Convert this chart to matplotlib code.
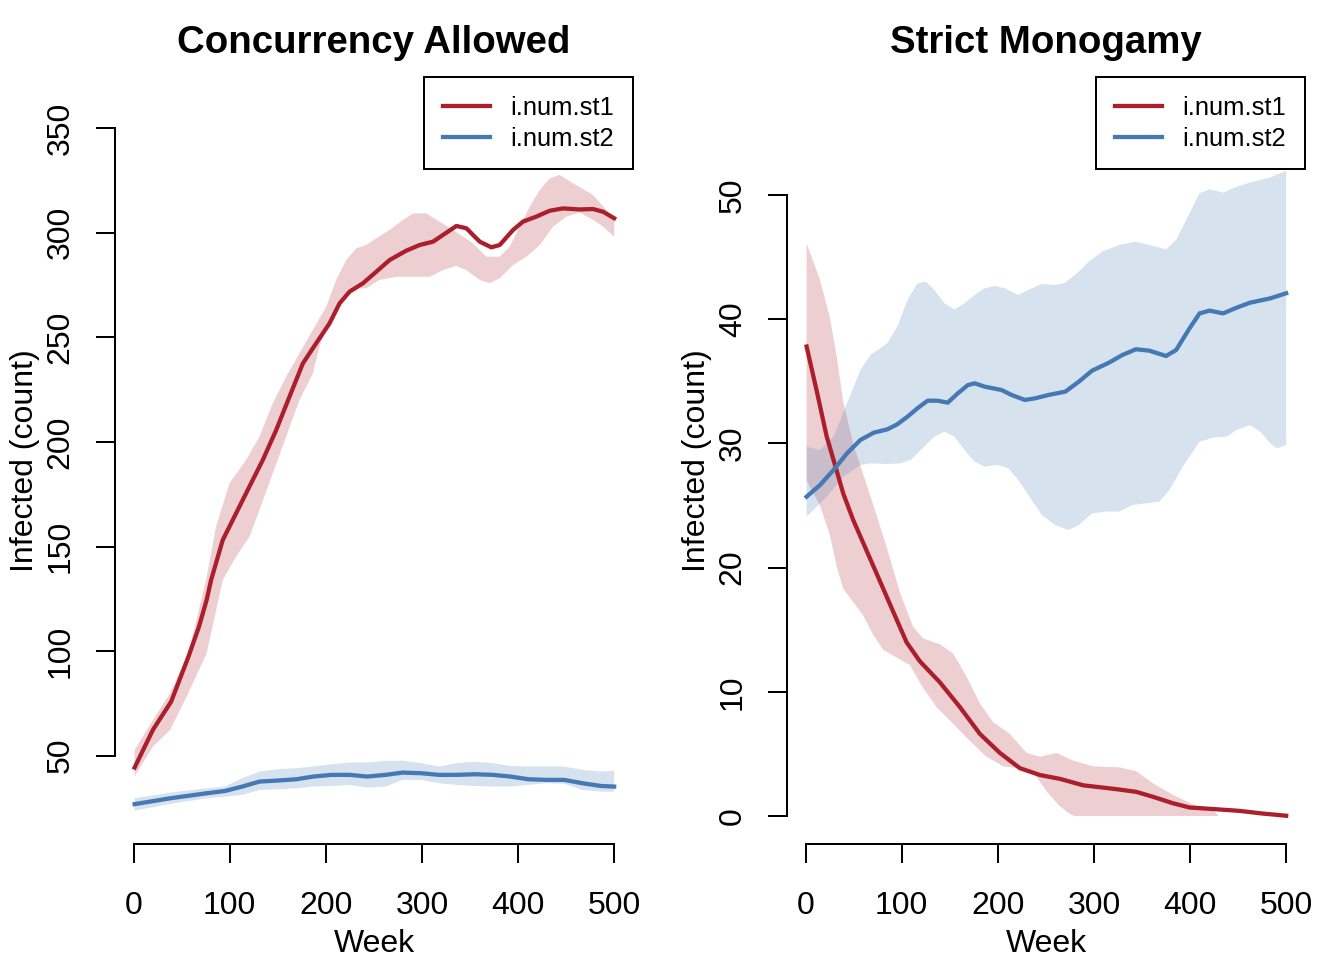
import numpy as np
import matplotlib
matplotlib.use("Agg")
import matplotlib.pyplot as plt

plt.rcParams['font.family'] = ['Liberation Sans', 'DejaVu Sans']

RED = '#AB1F2C'
BLUE = '#4679B4'

# ---- Concurrency Allowed ----
ca_st1_wk = [1, 20, 39, 57, 68, 76, 80.6, 92.7, 106.6, 120.5, 134.4, 148.3, 162.2,
             176.1, 189.9, 203.8, 214.3, 224.7, 238.6, 252.4, 266.3, 283.7, 297.6,
             311.5, 321.9, 335.8, 346.2, 360.1, 372.2, 380.9, 394.8, 405.2, 419.1,
             433, 446.9, 464.2, 478.1, 488.5, 500]
ca_st1_mean = [44.3, 62.3, 75.8, 97.3, 111.7, 124.5, 134.0, 153.1, 165.9, 178.7,
               191.4, 205.7, 221.7, 237.6, 247.2, 256.7, 266.3, 271.9, 275.9, 281.4,
               287.0, 291.5, 294.2, 295.8, 299.0, 303.3, 302.2, 295.8, 293.1, 294.2,
               301.4, 305.4, 307.8, 310.6, 311.7, 311.2, 311.4, 310.1, 307.0]
ca_st1_hi_wk = [1, 20, 38, 57, 75.4, 85.8, 99.7, 117, 130.9, 144.8, 158.7, 172.6,
                186.5, 200.4, 210.8, 221.2, 231.6, 242, 252.4, 266.3, 280.2, 290.6,
                304.5, 318.4, 332.3, 342.7, 353.1, 367, 380.9, 391.3, 401.7, 412.2,
                422.6, 433, 443.4, 457.3, 478.1, 492, 500]
ca_st1_hi = [52.7, 67, 80, 99, 134.0, 159.5, 180.2, 191.4, 202.5, 218.5, 231.2, 242.4,
             253.6, 264.7, 277.5, 287.0, 292.6, 294.2, 297.4, 301.4, 306.2, 309.3,
             309.3, 305.3, 301.4, 298.2, 295.0, 288.6, 288.6, 293.4, 303.0, 312.5,
             320.5, 326.1, 327.7, 323.7, 318.1, 310.9, 306.2]
ca_st1_lo_wk = [1, 20, 38, 57, 76, 92.7, 106.6, 120.5, 130.9, 144.8, 158.7, 172.6,
                186.5, 193.4, 203.8, 217.7, 231.6, 242, 255.9, 273.3, 290.6, 308,
                321.9, 335.8, 346.2, 360.1, 370.5, 380.9, 394.8, 408.7, 422.6, 436.5,
                450.4, 464.2, 478.1, 488.5, 500]
ca_st1_lo = [40, 54.3, 62.3, 80, 99, 133.9, 145.2, 154.7, 167.5, 185.0, 202.6, 220.1,
             232.8, 245.6, 258.3, 269.5, 273.5, 273.5, 277.5, 279.0, 279.0, 279.0,
             282.2, 284.2, 282.2, 277.5, 275.9, 278.3, 284.6, 288.6, 294.2, 303.0,
             307.8, 309.7, 306.2, 303.0, 298.2]

ca_st2_wk = [1, 38, 76, 95, 113, 131, 150, 169, 187, 206, 225, 243, 262, 280, 299,
             318, 336, 355, 374, 392, 411, 430, 448, 467, 486, 500]
ca_st2_mean = [26.8, 29.6, 32.0, 33.1, 35.2, 37.6, 38.1, 38.7, 40.0, 40.8, 40.8, 40.0,
               40.8, 41.9, 41.6, 40.8, 40.8, 41.1, 40.8, 40.0, 38.7, 38.4, 38.4, 36.8,
               35.5, 35.2]
ca_st2_hi = [29.6, 32.3, 34.4, 35.2, 39.2, 42.4, 43.5, 44.0, 44.8, 45.9, 46.7, 46.7,
             47.5, 47.6, 46.4, 44.8, 46.4, 47.1, 46.4, 45.1, 44.8, 44.8, 44.8, 43.2,
             42.4, 42.8]
ca_st2_lo = [23.7, 26.9, 29.6, 30.4, 31.2, 33.6, 33.9, 34.4, 35.2, 35.5, 36.0, 34.7,
             35.2, 38.4, 38.4, 36.8, 36.0, 35.5, 35.2, 35.2, 36.0, 36.8, 36.5, 33.6,
             32.8, 32.8]

# ---- Strict Monogamy ----
sm_st1_wk = [1, 11.4, 21.8, 32.2, 39.1, 49.5, 63.4, 77.3, 91.1, 105, 118.9, 139.7,
             160.5, 181.3, 202.1, 222.9, 243.7, 264.5, 288.8, 323.4, 344.2, 361.6,
             382.4, 399.7, 423.9, 451.7, 475, 500]
sm_st1_mean = [37.8, 34.27, 30.59, 27.82, 25.97, 23.83, 21.37, 18.91, 16.45, 13.99,
               12.45, 10.76, 8.77, 6.61, 5.08, 3.85, 3.30, 2.99, 2.47, 2.16, 1.94,
               1.54, 1.02, 0.68, 0.56, 0.41, 0.2, 0.02]
sm_st1_hi_wk = [1, 14.9, 25.3, 32.2, 39.1, 49.5, 59.9, 70.3, 84.2, 98.1, 111.9, 122.3,
                139.7, 153.6, 167.4, 181.3, 195.2, 212.5, 229.8, 243.7, 261, 278.4,
                299.2, 326.9, 344.2, 361.6, 382.4, 403.2, 423.9, 430]
sm_st1_hi = [46.1, 43.18, 40.11, 37.04, 33.35, 29.97, 27.51, 25.05, 21.67, 17.99,
             15.22, 14.29, 13.83, 13.07, 11.23, 9.07, 7.54, 6.62, 5.08, 4.77, 5.08,
             4.46, 4.0, 3.91, 3.6, 2.62, 1.69, 0.93, 0.47, 0.0]
sm_st1_lo_wk = [1, 14.9, 25.3, 32.2, 39.1, 49.5, 59.9, 70.3, 80.7, 94.6, 108.5, 122.3,
                136.2, 150.1, 167.4, 188.2, 205.6, 222.9, 236.8, 250.6, 264.5, 274.9,
                280, 430]
sm_st1_lo = [27.0, 25.0, 22.6, 20.14, 18.29, 17.22, 16.14, 14.6, 13.38, 12.76, 12.15,
             10.3, 8.77, 7.69, 6.31, 4.77, 4.0, 3.85, 3.54, 2.0, 0.78, 0.16, 0.0, 0.0]

sm_st2_wk = [1, 15, 29, 43, 57, 71, 84.9, 95.4, 105.9, 116.4, 126.9, 137.4, 147.8,
             158.3, 168.8, 175.8, 186.3, 203.8, 214.3, 228.2, 238.7, 252.7, 270.2,
             284.2, 298.1, 315.6, 329.6, 343.6, 357.5, 375, 385.5, 399.5, 409.9,
             420.4, 434.4, 448.4, 462.4, 483.4, 500]
sm_st2_mean = [25.71, 26.65, 27.86, 29.2, 30.28, 30.87, 31.13, 31.54, 32.15, 32.83,
               33.44, 33.44, 33.28, 34.03, 34.7, 34.84, 34.57, 34.3, 33.9, 33.5, 33.63,
               33.9, 34.17, 34.97, 35.86, 36.5, 37.12, 37.58, 37.47, 37.04, 37.52,
               39.27, 40.47, 40.69, 40.47, 40.93, 41.33, 41.68, 42.09]
sm_st2_hi_wk = [1, 15, 29, 43, 57, 67.5, 84.9, 95.4, 105.9, 116.4, 125.1, 133.9, 144.4,
                154.8, 165.3, 175.8, 186.3, 196.8, 207.3, 221.2, 235.2, 245.7, 259.7,
                270.2, 284.2, 294.6, 308.6, 326.1, 343.6, 357.5, 375, 385.5, 399.5,
                409.9, 420.4, 434.4, 448.4, 462.4, 483.4, 500]
sm_st2_hi = [29.74, 29.47, 30.54, 33.23, 35.91, 37.12, 38.06, 39.4, 41.55, 42.89,
             43.02, 42.35, 41.28, 40.8, 41.28, 41.95, 42.49, 42.68, 42.49, 41.95,
             42.49, 42.84, 42.76, 42.94, 43.83, 44.63, 45.44, 45.98, 46.24, 45.98,
             45.63, 46.38, 48.53, 50.14, 50.46, 50.19, 50.67, 51.0, 51.42, 51.96]
sm_st2_lo_wk = [1, 22, 39.5, 57, 67.5, 84.9, 98.9, 109.4, 123.4, 133.9, 144.4, 154.8,
                165.3, 175.8, 186.3, 200.3, 210.8, 221.2, 235.2, 245.7, 259.7, 273.7,
                284.2, 298.1, 312.1, 326.1, 340.1, 354.1, 368, 378.5, 392.5, 409.9,
                423.9, 437.9, 448.4, 462.4, 472.9, 483.4, 490.4, 500]
sm_st2_lo = [24.1, 25.71, 27.32, 28.26, 28.4, 28.34, 28.4, 28.67, 29.74, 30.54, 30.95,
             30.54, 29.47, 28.53, 28.13, 28.26, 28.0, 27.06, 25.45, 24.24, 23.43, 23.03,
             23.43, 24.37, 24.51, 24.51, 25.04, 25.18, 25.31, 26.25, 28.13, 30.14,
             30.46, 30.54, 31.08, 31.48, 30.95, 30.01, 29.6, 29.87]

x_ticks = [0, 100, 200, 300, 400, 500]

fig = plt.figure(figsize=(7, 5), dpi=192)
ax1 = fig.add_axes([115 / 1344, 1 - 844.3 / 960, 518 / 1344, 767 / 960])
ax2 = fig.add_axes([787 / 1344, 1 - 844.3 / 960, 518 / 1344, 767 / 960])


def band(ax, wk_hi, hi, wk_lo, lo, color):
    xs = np.concatenate([wk_hi, wk_lo[::-1]])
    ys = np.concatenate([hi, lo[::-1]])
    ax.fill(xs, ys, color=color, alpha=0.21, lw=0)


def style(ax, title, ylim, yticks):
    ax.set_xlim(-19.4, 519.6)
    ax.set_ylim(*ylim)
    for s in ['top', 'right']:
        ax.spines[s].set_visible(False)
    for s in ['left', 'bottom']:
        ax.spines[s].set_linewidth(0.75)
    ax.spines['bottom'].set_bounds(0, 500)
    ax.spines['left'].set_bounds(yticks[0], yticks[-1])
    ax.set_xticks(x_ticks)
    ax.set_yticks(yticks)
    ax.tick_params(direction='out', length=7.2, width=0.75, labelsize=12)
    ax.tick_params(axis='x', pad=10.5)
    ax.tick_params(axis='y', labelrotation=90, pad=7.5)
    for lab in ax.get_yticklabels():
        lab.set_va('center')
    ax.set_xlabel('Week', fontsize=12, labelpad=3)
    ax.set_ylabel('Infected (count)', fontsize=12, labelpad=2)
    ax.text(0.5, 1 + (77.3 - 43) / 767, title, transform=ax.transAxes,
            ha='center', va='center', fontsize=14.4, fontweight='bold')
    leg = ax.legend(loc='upper right', frameon=True, fancybox=False,
                    edgecolor='black', framealpha=1, borderaxespad=0,
                    fontsize=9.6, handlelength=1.85, handletextpad=0.8,
                    borderpad=0.73, labelspacing=0.26)
    leg.get_frame().set_linewidth(0.75)


band(ax1, ca_st1_hi_wk, ca_st1_hi, ca_st1_lo_wk, ca_st1_lo, RED)
band(ax1, ca_st2_wk, ca_st2_hi, ca_st2_wk, ca_st2_lo, BLUE)
ax1.plot(ca_st1_wk, ca_st1_mean, color=RED, lw=1.6, solid_joinstyle='round',
         label='i.num.st1')
ax1.plot(ca_st2_wk, ca_st2_mean, color=BLUE, lw=1.6, solid_joinstyle='round',
         label='i.num.st2')
style(ax1, 'Concurrency Allowed', (7.6, 374.4), [50, 100, 150, 200, 250, 300, 350])

band(ax2, sm_st1_hi_wk, sm_st1_hi, sm_st1_lo_wk, sm_st1_lo, RED)
band(ax2, sm_st2_hi_wk, sm_st2_hi, sm_st2_lo_wk, sm_st2_lo, BLUE)
ax2.plot(sm_st1_wk, sm_st1_mean, color=RED, lw=1.6, solid_joinstyle='round',
         label='i.num.st1')
ax2.plot(sm_st2_wk, sm_st2_mean, color=BLUE, lw=1.6, solid_joinstyle='round',
         label='i.num.st2')
style(ax2, 'Strict Monogamy', (-2.28, 59.48), [0, 10, 20, 30, 40, 50])

fig.savefig('out.png', dpi=192)
